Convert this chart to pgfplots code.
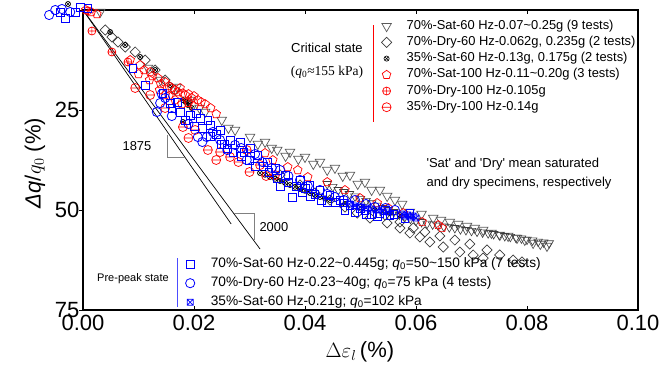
\documentclass[border=0pt]{standalone}
\usepackage{fontspec}
\setmainfont{Liberation Sans}
\newfontfamily\serif{Liberation Serif}
\usepackage{pgfplots}
\pgfplotsset{compat=1.18}
\usetikzlibrary{plotmarks}
\definecolor{tri}{RGB}{90,90,90}
\definecolor{dia}{RGB}{60,60,60}
\pgfdeclareplotmark{boxx}{%
  \pgfpathrectangle{\pgfqpoint{-\pgfplotmarksize}{-\pgfplotmarksize}}{\pgfqpoint{2\pgfplotmarksize}{2\pgfplotmarksize}}%
  \pgfpathmoveto{\pgfqpoint{-\pgfplotmarksize}{-\pgfplotmarksize}}\pgfpathlineto{\pgfqpoint{\pgfplotmarksize}{\pgfplotmarksize}}%
  \pgfpathmoveto{\pgfqpoint{-\pgfplotmarksize}{\pgfplotmarksize}}\pgfpathlineto{\pgfqpoint{\pgfplotmarksize}{-\pgfplotmarksize}}%
  \pgfusepathqstroke}
\pgfdeclareplotmark{ominus}{%
  \pgfpathcircle{\pgfpointorigin}{\pgfplotmarksize}%
  \pgfpathmoveto{\pgfqpoint{-\pgfplotmarksize}{0pt}}\pgfpathlineto{\pgfqpoint{\pgfplotmarksize}{0pt}}%
  \pgfusepathqstroke}
\newcommand{\lf}{\fontsize{12.9}{14}\selectfont}
\begin{document}
\begin{tikzpicture}
\pgfplotsset{
  base/.style={
    at={(0pt,0pt)}, anchor=south west,
    scale only axis, width=555pt, height=300pt,
    xmin=0, xmax=0.1, ymin=0, ymax=75, y dir=reverse,
    clip=false,
  },
  mylegend/.style={
    legend cell align=left,
    legend style={draw=none, fill=none, inner sep=0pt, column sep=14pt,
      nodes={inner sep=1pt, text height=9pt, text depth=3pt}},
  }
}
\begin{axis}[base, mylegend,
  legend style={at={(axis description cs:0.5375,0.97)}, anchor=north west, row sep=2.2pt, font=\lf},
  xtick={0,0.02,0.04,0.06,0.08,0.1},
  ytick={0,25,50,75}, yticklabels={,25,50,75},
  scaled x ticks=false,
  xticklabel style={yshift=-1.5pt,/pgf/number format/.cd,fixed,fixed zerofill,precision=2},
  /pgf/number format/assume math mode=true,
  tick label style={font=\fontsize{22}{22}\selectfont},
  axis line style={line width=1.2pt},
  major tick length=4pt, tick style={black, line width=1pt},
  ytick pos=left, y tick style={xshift=-4pt},
  xlabel={$\Delta\varepsilon_{l}$\,(\%)},
  ylabel={\textit{Δq}/$q_0$ (\%)},
  every axis x label/.style={at={(axis description cs:0.499,-0.14)}, anchor=center, font=\fontsize{22}{24}\selectfont},
  every axis y label/.style={at={(axis description cs:-0.0865,0.49)}, rotate=90, anchor=center, font=\fontsize{22}{24}\selectfont},
]
% reference slope lines
\addplot[black, line width=0.7pt, forget plot] coordinates {(0,0) (0.0319,59.75)};
\addplot[black, line width=0.7pt, forget plot] coordinates {(0,0) (0.0267,53.5)};

% 70%-Sat-60 Hz critical (triangles)
\addplot[only marks, mark=triangle, mark size=5.5pt, color=tri, mark options={rotate=180, line width=0.7pt}] coordinates {
(0.0031,0.5)(0.0117,14.5)(0.0169,19.25)(0.0193,22.5)(0.0220,25.5)(0.0250,27.5)(0.0274,30)(0.0301,31.75)(0.0328,33)(0.0350,35)(0.0373,35.5)(0.0400,36.75)(0.0427,38)(0.0454,39.5)(0.0481,41.25)(0.0508,43)(0.0535,45)(0.0562,47.5)(0.0589,50.5)(0.0631,52)(0.0661,53)(0.0692,54)(0.0721,55)(0.0751,56.25)(0.0782,57)(0.0811,58.25)(0.0836,59)
(0.0140,17.5)(0.0210,24.5)(0.0262,29.5)(0.0315,33.5)(0.0340,34.5)(0.0365,36.5)(0.0388,37.25)(0.0415,38.5)(0.0440,40)(0.0468,41.5)(0.0495,43.5)(0.0520,45)(0.0548,46.5)(0.0575,48.5)(0.0610,51)(0.0645,52.5)(0.0676,53.5)(0.0706,54.5)(0.0736,55.75)(0.0766,56.5)(0.0796,57.5)(0.0824,58.5)
};
\addlegendentry{70\%-Sat-60 Hz-0.07\textasciitilde0.25g (9 tests)}
\addplot[only marks, mark=triangle, mark size=5pt, color=dia, mark options={rotate=180, line width=0.6pt}, forget plot] coordinates {
(0.044,43.5)(0.045,44.2)(0.046,45)(0.047,45.5)(0.048,46)(0.049,46.6)(0.050,47.2)(0.051,47.7)(0.052,48.3)(0.053,48.9)(0.054,49.5)(0.055,50)(0.056,50.5)(0.057,51.1)(0.058,51.7)(0.059,52.2)(0.060,52.7)(0.061,53)(0.062,53.4)(0.063,53.6)(0.064,53.9)(0.065,54.1)(0.066,54.3)(0.067,54.5)(0.068,54.8)(0.069,55)(0.070,55.2)(0.071,55.4)(0.072,55.6)(0.073,55.8)(0.074,56)(0.075,56.2)(0.076,56.5)(0.077,56.7)(0.078,56.9)(0.079,57.1)(0.080,57.4)(0.081,57.6)(0.082,57.9)(0.083,58.1)(0.084,58.3)
};

% 70%-Dry-60 Hz critical (diamonds)
\addplot[only marks, mark=square, mark size=3.6pt, color=dia, mark options={rotate=45, line width=0.7pt}] coordinates {
(0.0040,5)(0.0052,6.75)(0.0063,8)(0.0076,9.25)(0.0094,10.5)(0.0112,12.5)(0.0130,15)(0.0148,17.5)(0.0166,20)
(0.0355,41.25)(0.0391,43.75)(0.0418,45.75)
(0.0445,47.5)(0.0472,49.25)(0.0494,50.75)(0.0517,52)(0.0548,53.25)(0.0571,54.5)(0.0589,55.75)(0.0607,56.75)(0.0625,58)(0.0649,59.25)(0.0679,60.5)(0.0703,61.25)(0.0721,62)
(0.0544,51.25)(0.0571,53)(0.0595,54.5)(0.0616,55.5)(0.0643,56.5)(0.0670,57.5)(0.0697,58.5)(0.0728,60)(0.0751,61.25)(0.0775,62.5)(0.0791,63)
};
\addlegendentry{70\%-Dry-60 Hz-0.062g, 0.235g (2 tests)}

% 35%-Sat-60 Hz critical (otimes, black)
\addplot[only marks, mark=otimes, mark size=2.6pt, color=black, mark options={line width=0.6pt}] coordinates {
(-0.0027,-1.5)(0.0049,5.5)(0.0076,8.75)(0.0103,11.75)(0.0130,15)(0.0157,18.75)(0.0180,22.5)(0.0189,23.75)(0.0196,24.5)(0.0185,23)(0.0192,22.8)(0.0180,28)
(0.0319,40.75)(0.0328,41.2)(0.0337,41.75)(0.0346,42.2)(0.0355,42.75)(0.0364,43.2)(0.0373,43.75)(0.0382,44.2)(0.0391,44.75)(0.0400,45.2)(0.0409,45.75)(0.0418,46.2)(0.0427,46.75)(0.0436,47.1)(0.0445,47.5)(0.0472,48.5)(0.0499,49.25)(0.0526,50)(0.0553,50.75)(0.0571,51.25)
};
\addlegendentry{35\%-Sat-60 Hz-0.13g, 0.175g (2 tests)}

% 70%-Sat-100 Hz critical (pentagons, red)
\addplot[only marks, mark=pentagon, mark size=4.5pt, color=red, mark options={line width=0.7pt}] coordinates {
(0.0005,0)(0.0015,0.5)(0.0025,1)
(0.0085,12.5)(0.0103,13.75)(0.0121,15.5)(0.0135,17)(0.0148,18)(0.0160,19.5)(0.0171,20.5)(0.0184,21.25)(0.0196,22)(0.0207,22.5)(0.0148,21.25)(0.0166,22.5)(0.0178,23.5)(0.0190,23.2)(0.0200,24)
(0.0110,15)(0.0125,16.5)(0.0140,18.5)(0.0155,19)(0.0165,20)(0.0175,19.5)(0.0180,20.8)(0.0190,21)(0.0200,21.5)(0.0213,23)(0.0220,23.5)(0.0230,24.5)(0.0240,26)(0.0155,21.5)(0.0138,20)(0.0120,17.5)(0.0100,16)
(0.0328,35.75)(0.0342,37.5)(0.0369,39.25)(0.0387,40)(0.0405,41.75)(0.0440,43)(0.0472,45)(0.0499,47)(0.0530,48.25)(0.0550,49.5)(0.0577,50.75)(0.0611,53)(0.0640,53.75)(0.0647,54.5)
};
\addlegendentry{70\%-Sat-100 Hz-0.11\textasciitilde0.20g (3 tests)}

% 70%-Dry-100 Hz critical (oplus, red)
\addplot[only marks, mark=oplus, mark size=4pt, color=red, mark options={line width=0.7pt}] coordinates {
(0.0009,0.2)(0.0016,5.25)(0.0052,10.5)(0.0081,13)
};
\addlegendentry{70\%-Dry-100 Hz-0.105g}

% 35%-Dry-100 Hz critical (ominus, red)
\addplot[only marks, mark=ominus, mark size=4.5pt, color=red, mark options={line width=0.7pt}] coordinates {
(0.0094,19.5)(0.0121,21.25)(0.0148,24.5)(0.0180,29.25)(0.0202,30)(0.0225,35)(0.0247,35.5)(0.0265,36.75)(0.0295,35)(0.0319,38.75)(0.0346,41.25)
(0.0190,32)(0.0240,37.5)(0.0280,38)(0.0300,40.5)(0.0330,41.5)
};
\addlegendentry{35\%-Dry-100 Hz-0.14g}

% slope triangles and annotations
\draw[gray, line width=0.8pt] (axis cs:0.01526,31.25) -- (axis cs:0.01526,36.75) -- (axis cs:0.01838,36.75);
\draw[gray, line width=0.8pt] (axis cs:0.02721,50.75) -- (axis cs:0.03081,50.75) -- (axis cs:0.03081,57.5);
\node[font=\lf] at (axis cs:0.00973,34) {1875};
\node[font=\lf] at (axis cs:0.0344,54.25) {2000};

\draw[red, line width=0.8pt] (axis description cs:0.5225,0.95) -- (axis description cs:0.5225,0.627);
\node[font=\fontsize{13}{15}\selectfont] at (axis description cs:0.4396,0.8733) {Critical state};
\node[font=\fontsize{13.5}{15}\selectfont\serif] at (axis description cs:0.4396,0.7933) {(\textit{q}\textsubscript{0}≈155 kPa)};
\node[font=\fontsize{13}{19}\selectfont, align=left, anchor=west] at (axis description cs:0.6126,0.455)
  {\textquotesingle Sat\textquotesingle{} and \textquotesingle Dry\textquotesingle{} mean saturated\\and dry specimens, respectively};
\draw[blue!70, line width=0.8pt] (axis description cs:0.1694,0.173) -- (axis description cs:0.1694,0.01);
\node[font=\fontsize{11}{13}\selectfont] at (axis description cs:0.0901,0.1033) {Pre-peak state};
\end{axis}

\begin{axis}[base, hide axis, mylegend,
  legend style={at={(axis description cs:0.1845,0.1767)}, anchor=north west, row sep=5pt, column sep=15pt, font=\fontsize{13.7}{15}\selectfont}]
% 70%-Sat-60 Hz pre-peak (squares, blue)
\addplot[only marks, mark=square, mark size=3.9pt, color=blue, mark options={line width=0.8pt, fill=white}] coordinates {
(-0.0013,0.5)(-0.0032,2)(-0.0005,-0.75)(0.0009,-0.5)(-0.0040,0.5)
(0.0090,14.5)(0.0112,18.75)(0.0144,20.75)(0.0157,23.25)(0.0175,25.5)(0.0193,26.25)(0.0205,25.75)(0.0211,27)(0.0229,28.75)(0.0247,30)(0.0265,32.5)(0.0283,33)(0.0301,34.5)(0.0315,36.25)(0.0332,38)(0.0346,39.5)(0.0364,41.25)(0.0377,46.75)(0.0391,42.5)(0.0409,43.75)(0.0427,45)(0.0445,46.25)(0.0463,47.5)(0.0481,48.75)(0.0472,50)(0.0490,50.5)(0.0508,50)(0.0535,50.75)(0.0553,51.25)(0.0580,52)(0.0589,50.75)
(0.0225,27.5)(0.0240,31)(0.0255,33.5)(0.0290,35.5)(0.0325,39)(0.0355,44)(0.0400,44.5)(0.0418,46)(0.0455,48)(0.0520,51)
(0.0160,24.5)(0.0170,23)(0.0185,27.5)(0.0200,29)(0.0215,29.5)(0.0230,31.5)(0.0250,33.5)(0.0260,34.5)(0.0270,35.5)(0.0285,36.5)(0.0300,37.5)(0.0310,39)(0.0335,40.5)(0.0350,42)(0.0370,43)(0.0385,44)(0.0395,45.5)(0.0410,46.5)(0.0430,47.5)(0.0440,48)(0.0470,48.2)(0.0500,49.5)(0.0510,51)(0.0530,51.5)(0.0545,50)(0.0560,51)
};
\addlegendentry{70\%-Sat-60 Hz-0.22\textasciitilde0.445g; \textit{q}\textsubscript{0}=50\textasciitilde150 kPa (7 tests)}
% 70%-Dry-60 Hz pre-peak (circles, blue)
\addplot[only marks, mark=o, mark size=4.6pt, color=blue, mark options={line width=0.8pt, fill=white}] coordinates {
(-0.0061,1.25)(-0.0050,0)(-0.0038,-0.25)(-0.0023,0.5)
(0.0133,25.5)(0.0142,21)(0.0139,23.25)(0.0148,22)(0.0207,31.75)(0.0223,31.75)(0.0234,30.5)(0.0247,32.5)(0.0274,33.75)(0.0295,37.5)(0.0323,38)(0.0355,40)(0.0391,42.5)(0.0427,45)(0.0454,46.75)(0.0490,47.5)(0.0526,49.25)(0.0562,50)
(0.0160,26.5)(0.0190,28.5)(0.0215,33)(0.0260,35)(0.0285,34.5)(0.0310,36)(0.0340,39.5)(0.0370,41.5)(0.0405,44)(0.0440,46)(0.0470,47.5)(0.0510,48.5)(0.0545,49.5)
};
\addlegendentry{70\%-Dry-60 Hz-0.23\textasciitilde40g; \textit{q}\textsubscript{0}=75 kPa (4 tests)}
% 35%-Sat-60 Hz pre-peak (boxed x, blue)
\addplot[only marks, mark=boxx, mark size=3pt, color=blue, mark options={line width=0.7pt}] coordinates {
(0.0480,48.5)(0.0490,49)(0.0500,49.25)(0.0510,49.5)(0.0520,49.75)(0.0530,50)(0.0540,50.25)(0.0550,50.5)(0.0575,51)(0.0580,51.5)(0.0585,51.25)(0.0590,51.75)(0.0595,51.5)(0.0600,52)
};
\addlegendentry{35\%-Sat-60 Hz-0.21g; \textit{q}\textsubscript{0}=102 kPa}
\end{axis}
\path[use as bounding box] (-83pt,-58pt) rectangle (581pt,310pt);
\end{tikzpicture}
\end{document}
